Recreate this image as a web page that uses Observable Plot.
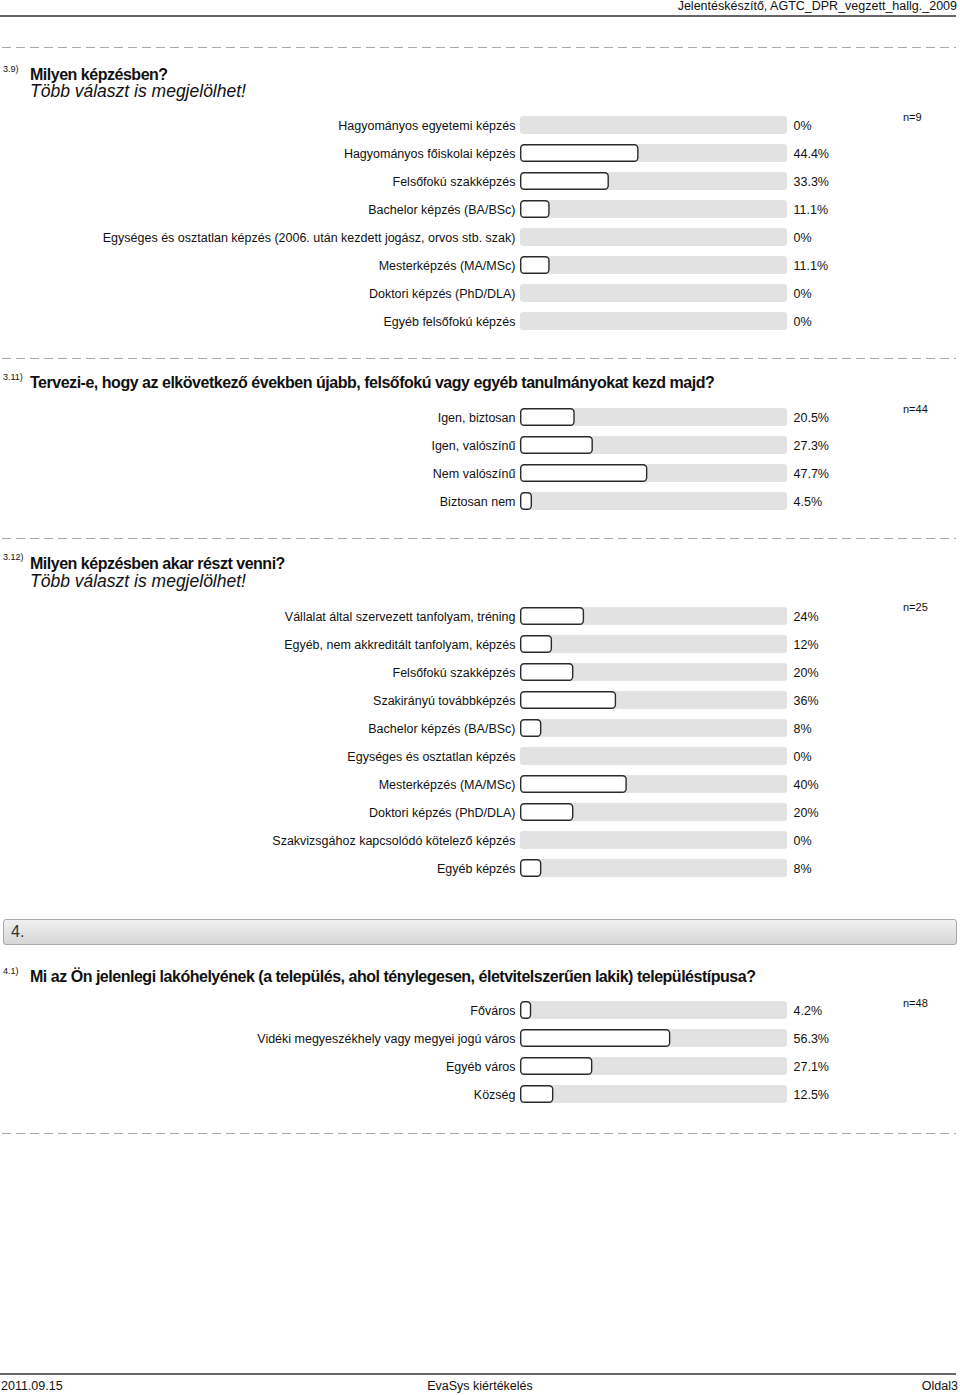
<!DOCTYPE html>
<html><head><meta charset="utf-8">
<script src="https://cdn.jsdelivr.net/npm/d3@7"></script>
<script src="https://cdn.jsdelivr.net/npm/@observablehq/plot@0.6"></script>
<style>
body{margin:0;background:#fff;font-family:"Liberation Sans",Arial,sans-serif;color:#111;}
#page{position:relative;width:960px;height:1395px;overflow:hidden;}
.abs{position:absolute;white-space:nowrap;}
.dash{position:absolute;left:2px;width:954px;height:1px;background:repeating-linear-gradient(to right,#a8a8a8 0 9px,transparent 9px 14px);}
.hline{position:absolute;left:0;width:956px;height:2px;background:#666;}
.num{font-size:9px;line-height:10px;}
.q{font-size:16px;font-weight:bold;line-height:18px;letter-spacing:-0.48px;}
.qi{font-size:17.5px;font-style:italic;line-height:18px;}
.n{font-size:11px;line-height:12px;}
.sec{position:absolute;left:3px;width:952px;height:24px;border:1px solid #a8a8a8;border-radius:3px;background:linear-gradient(#f0f0f0,#d6d6d6);}
.sec span{position:absolute;left:7px;top:3px;font-size:16px;color:#333;}
.plot{position:absolute;left:0;}
</style></head>
<body><div id="page"></div>
<script>
// ---- data ----
const q39Labels = ["Hagyományos egyetemi képzés","Hagyományos főiskolai képzés","Felsőfokú szakképzés","Bachelor képzés (BA/BSc)","Egységes és osztatlan képzés (2006. után kezdett jogász, orvos stb. szak)","Mesterképzés (MA/MSc)","Doktori képzés (PhD/DLA)","Egyéb felsőfokú képzés"];
const q39Values = [0,44.4,33.3,11.1,0,11.1,0,0];
const q311Labels = ["Igen, biztosan","Igen, valószínű","Nem valószínű","Biztosan nem"];
const q311Values = [20.5,27.3,47.7,4.5];
const q312Labels = ["Vállalat által szervezett tanfolyam, tréning","Egyéb, nem akkreditált tanfolyam, képzés","Felsőfokú szakképzés","Szakirányú továbbképzés","Bachelor képzés (BA/BSc)","Egységes és osztatlan képzés","Mesterképzés (MA/MSc)","Doktori képzés (PhD/DLA)","Szakvizsgához kapcsolódó kötelező képzés","Egyéb képzés"];
const q312Values = [24,12,20,36,8,0,40,20,0,8];
const q41Labels = ["Főváros","Vidéki megyeszékhely vagy megyei jogú város","Egyéb város","Község"];
const q41Values = [4.2,56.3,27.1,12.5];
const nLabels = ["n=9","n=44","n=25","n=48"];

const page = document.getElementById("page");
function add(cls, text, left, top, extra) {
  const d = document.createElement("div");
  d.className = "abs " + cls;
  d.textContent = text;
  d.style.left = left + "px"; d.style.top = top + "px";
  if (extra) Object.assign(d.style, extra);
  page.appendChild(d);
  return d;
}
function box(cls, top) {
  const d = document.createElement("div");
  d.className = cls; d.style.top = top + "px"; page.appendChild(d); return d;
}

// header / footer
add("", "Jelentéskészítő, AGTC_DPR_vegzett_hallg._2009", 0, -1, {fontSize:"12.5px", right:"3px", left:"auto"});
box("hline", 15);
box("hline", 1373);
add("", "2011.09.15", 1, 1379, {fontSize:"12.5px"});
add("", "EvaSys kiértékelés", 0, 1379, {fontSize:"12.5px", width:"960px", textAlign:"center"});
add("", "Oldal3", 0, 1379, {fontSize:"12.5px", right:"2px", left:"auto"});

// separators
[47, 358, 538, 1133].forEach(y => box("dash", y));

// section header 4.
const sec = box("sec", 919);
const s = document.createElement("span"); s.textContent = "4."; sec.appendChild(s);

// questions
add("num", "3.9)", 3, 64);
add("q", "Milyen képzésben?", 30, 66);
add("qi", "Több választ is megjelölhet!", 30, 82);
add("num", "3.11)", 3, 372);
add("q", "Tervezi-e, hogy az elkövetkező években újabb, felsőfokú vagy egyéb tanulmányokat kezd majd?", 30, 374);
add("num", "3.12)", 3, 552);
add("q", "Milyen képzésben akar részt venni?", 30, 555);
add("qi", "Több választ is megjelölhet!", 30, 572);
add("num", "4.1)", 3, 966);
add("q", "Mi az Ön jelenlegi lakóhelyének (a település, ahol ténylegesen, életvitelszerűen lakik) településtípusa?", 30, 968);

const nTops = [111, 403, 601, 997];
nLabels.forEach((t, i) => add("n", t, 903, nTops[i]));

const STEP = 28.5;
function chart(labels, values, firstCenter) {
  const data = labels.map((l, i) => ({label: l, value: values[i]}));
  const p = Plot.plot({
    width: 960,
    height: labels.length * STEP,
    marginLeft: 520, marginRight: 173, marginTop: 0, marginBottom: 0,
    x: {domain: [0, 100], axis: null},
    y: {domain: labels, axis: null, paddingInner: 0.37, paddingOuter: 0.185},
    style: {fontFamily: "'Liberation Sans', Arial, sans-serif", fontSize: "12.5px", color: "#111", background: "transparent", overflow: "visible"},
    marks: [
      Plot.barX(data, {x1: 0, x2: 100, y: "label", fill: "#e2e2e2", rx: 3}),
      Plot.barX(data.filter(d => d.value > 0), {x1: 0, x2: "value", y: "label", fill: "white", stroke: "#2a2a2a", strokeWidth: 1.4, rx: 3.5, insetLeft: 0.7, insetRight: 0.7, insetTop: 0.7, insetBottom: 0.7}),
      Plot.text(data, {x: 0, y: "label", text: "label", textAnchor: "end", dx: -5, fontSize: 12.5}),
      Plot.text(data, {x: 100, y: "label", text: d => d.value + "%", textAnchor: "start", dx: 6, fontSize: 12.5})
    ]
  });
  p.classList.add("plot");
  p.style.position = "absolute";
  p.style.top = (firstCenter - STEP / 2) + "px";
  page.appendChild(p);
}
chart(q39Labels, q39Values, 123.5);
chart(q311Labels, q311Values, 416.5);
chart(q312Labels, q312Values, 613.5);
chart(q41Labels, q41Values, 1009);
</script></body></html>
